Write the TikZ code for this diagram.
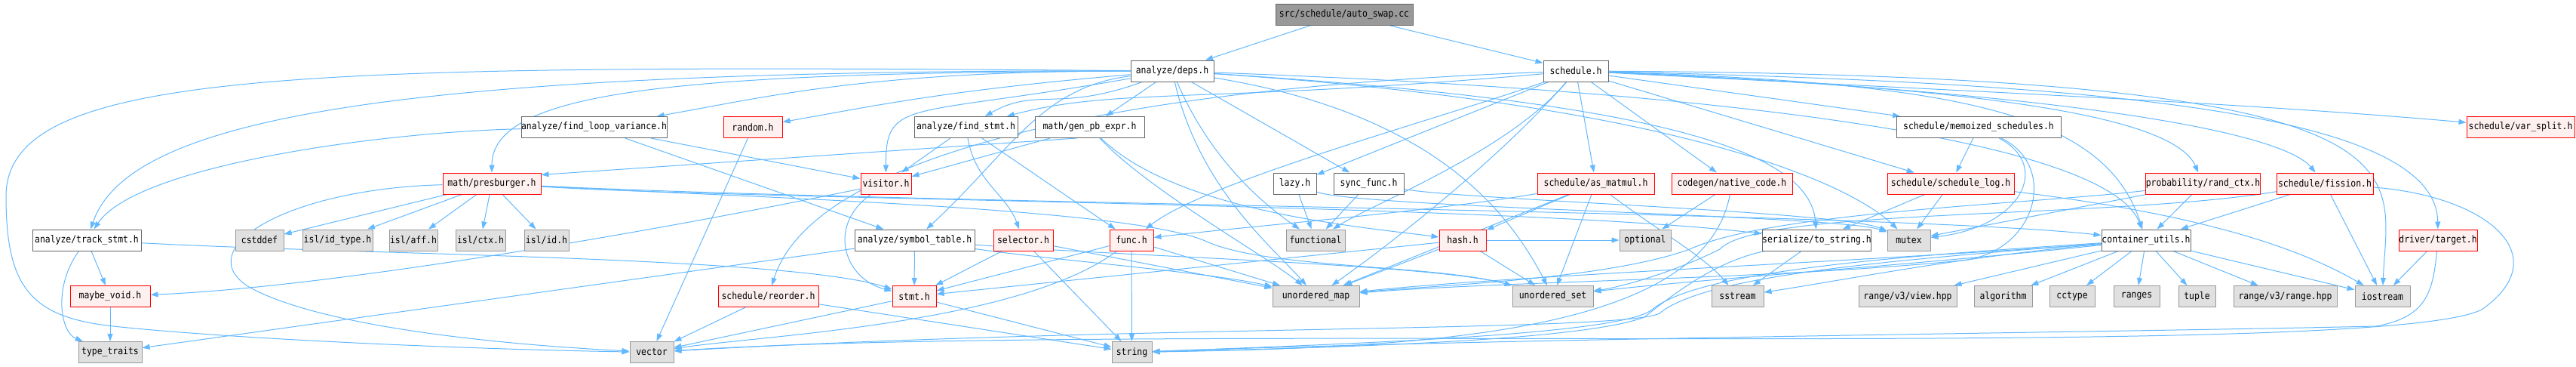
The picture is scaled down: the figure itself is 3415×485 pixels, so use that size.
\documentclass[tikz,border=0pt]{standalone}
\usepackage{fontspec}
\newfontfamily\doxfont[FakeStretch=0.88]{DejaVu Sans Mono}
\usetikzlibrary{arrows.meta}
\definecolor{edgeblue}{HTML}{63B8FF}
\definecolor{truncfill}{HTML}{FFF0F0}
\definecolor{sysfill}{HTML}{E0E0E0}
\definecolor{sysdraw}{HTML}{999999}
\definecolor{hdrdraw}{HTML}{666666}
\pgfdeclarelayer{back}
\pgfsetlayers{back,main}

\begin{document}
\begin{tikzpicture}[x=1pt,y=-1pt,>={Triangle[length=10pt,width=7pt]},
  box/.style={draw,line width=1pt,minimum height=28pt,inner sep=0pt,
    font=\doxfont\fontsize{13pt}{15pt}\selectfont},
  rootbox/.style={box,draw=hdrdraw,fill=sysdraw},
  hdrbox/.style={box,draw=hdrdraw,fill=white},
  truncbox/.style={box,draw=red,fill=truncfill},
  sysbox/.style={box,draw=sysdraw,fill=sysfill},
  incl/.style={->,edgeblue,line width=1pt}]
  \useasboundingbox (0,0) rectangle (3415,485);
  \node[rootbox,minimum width=182pt] (autoswap) at (1782,19) {src/schedule/auto\_swap.cc};
  \node[hdrbox,minimum width=110pt] (deps) at (1554,94) {analyze/deps.h};
  \node[hdrbox,minimum width=86pt] (sched) at (2089,94) {schedule.h};
  \node[hdrbox,minimum width=193pt] (floop) at (787.5,168.5) {analyze/find\_loop\_variance.h};
  \node[truncbox,minimum width=78pt] (random) at (998,168.5) {random.h};
  \node[hdrbox,minimum width=137pt] (fstmt) at (1280.5,168.5) {analyze/find\_stmt.h};
  \node[hdrbox,minimum width=145pt] (genpb) at (1444.5,168.5) {math/gen\_pb\_expr.h};
  \node[hdrbox,minimum width=218pt] (memo) at (2623,168.5) {schedule/memoized\_schedules.h};
  \node[truncbox,minimum width=143pt] (varsplit) at (3341.5,168.5) {schedule/var\_split.h};
  \node[truncbox,minimum width=130pt] (presb) at (652,243) {math/presburger.h};
  \node[truncbox,minimum width=67pt] (visitor) at (1174.5,243) {visitor.h};
  \node[hdrbox,minimum width=57pt] (lazy) at (1716.5,243) {lazy.h};
  \node[hdrbox,minimum width=93pt] (syncf) at (1814.5,243) {sync\_func.h};
  \node[truncbox,minimum width=155pt] (asmm) at (2115.5,243) {schedule/as\_matmul.h};
  \node[truncbox,minimum width=160pt] (native) at (2296,243) {codegen/native\_code.h};
  \node[truncbox,minimum width=168pt] (slog) at (2586,243) {schedule/schedule\_log.h};
  \node[truncbox,minimum width=147pt] (randctx) at (2920.5,243) {probability/rand\_ctx.h};
  \node[truncbox,minimum width=128pt] (fission) at (3082,243) {schedule/fission.h};
  \node[hdrbox,minimum width=144pt] (track) at (115,318) {analyze/track\_stmt.h};
  \node[sysbox,minimum width=64pt] (cstddef) at (344,318) {cstddef};
  \node[sysbox,minimum width=93pt] (idtype) at (447.5,318) {isl/id\_type.h};
  \node[sysbox,minimum width=64pt] (aff) at (548,318) {isl/aff.h};
  \node[sysbox,minimum width=66pt] (ctx) at (637,318) {isl/ctx.h};
  \node[sysbox,minimum width=59pt] (islid) at (724.5,318) {isl/id.h};
  \node[hdrbox,minimum width=159pt] (symtab) at (1212.5,318) {analyze/symbol\_table.h};
  \node[truncbox,minimum width=79pt] (selector) at (1356.5,318) {selector.h};
  \node[truncbox,minimum width=58pt] (func) at (1500,318) {func.h};
  \node[sysbox,minimum width=78pt] (functional) at (1744,318) {functional};
  \node[truncbox,minimum width=62pt] (hash) at (1939,318) {hash.h};
  \node[sysbox,minimum width=68pt] (optional) at (2181,318) {optional};
  \node[hdrbox,minimum width=137pt] (tostr) at (2408.5,318) {serialize/to\_string.h};
  \node[sysbox,minimum width=57pt] (mutex) at (2530.5,318) {mutex};
  \node[hdrbox,minimum width=118pt] (cutils) at (2845,318) {container\_utils.h};
  \node[truncbox,minimum width=104pt] (target) at (3232,318) {driver/target.h};
  \node[truncbox,minimum width=106pt] (maybev) at (146,392.5) {maybe\_void.h};
  \node[truncbox,minimum width=133pt] (reorder) at (1018.5,392.5) {schedule/reorder.h};
  \node[truncbox,minimum width=58pt] (stmt) at (1212,392.5) {stmt.h};
  \node[sysbox,minimum width=115pt] (umap) at (1744.5,392.5) {unordered\_map};
  \node[sysbox,minimum width=107pt] (uset) at (2058.5,392.5) {unordered\_set};
  \node[sysbox,minimum width=69pt] (sstream) at (2303.5,392.5) {sstream};
  \node[sysbox,minimum width=130pt] (rview) at (2529,392.5) {range/v3/view.hpp};
  \node[sysbox,minimum width=77pt] (algorithm) at (2655.5,392.5) {algorithm};
  \node[sysbox,minimum width=60pt] (cctype) at (2747,392.5) {cctype};
  \node[sysbox,minimum width=61pt] (ranges) at (2832.5,392.5) {ranges};
  \node[sysbox,minimum width=49pt] (tuple) at (2912.5,392.5) {tuple};
  \node[sysbox,minimum width=137pt] (rrange) at (3029.5,392.5) {range/v3/range.hpp};
  \node[sysbox,minimum width=73pt] (iostream) at (3158.5,392.5) {iostream};
  \node[sysbox,minimum width=84pt] (ttraits) at (146,466.5) {type\_traits};
  \node[sysbox,minimum width=58pt] (vector) at (864,466.5) {vector};
  \node[sysbox,minimum width=53pt] (string) at (1500.5,466.5) {string};
  \begin{pgfonlayer}{back}
  \foreach \src/\dst in {autoswap/deps,autoswap/sched,deps/genpb,deps/syncf,
      sched/lazy,sched/memo,sched/asmm,sched/native,sched/slog,
      floop/symtab,floop/visitor,fstmt/visitor,fstmt/func,genpb/visitor,
      presb/cstddef,presb/idtype,presb/aff,presb/ctx,presb/islid,
      track/maybev,maybev/ttraits,random/vector,lazy/functional,syncf/functional,
      asmm/uset,asmm/hash,asmm/umap,native/optional,memo/slog,slog/tostr,slog/mutex,
      randctx/cutils,randctx/mutex,fission/cutils,fission/iostream,target/iostream,
      cutils/algorithm,cutils/cctype,cutils/ranges,cutils/tuple,cutils/rrange,
      cutils/rview,cutils/iostream,symtab/stmt,symtab/ttraits,selector/stmt,
      selector/string,selector/umap,func/string,func/stmt,func/umap,hash/umap,
      hash/uset,hash/stmt,hash/optional,tostr/sstream,stmt/vector,stmt/string,
      reorder/vector,reorder/string}
    \draw[incl] (\src) -- (\dst);
  \draw[incl] (genpb.220) -- (presb.10);
  \draw[incl] (deps) .. controls (1149,94) and (1014,129) .. (floop);
  \draw[incl] (deps) .. controls (1250,120) and (1155,141) .. (random);
  \draw[incl] (deps) .. controls (1403,149) and (1374,115) .. (fstmt);
  \draw[incl] (deps) .. controls (1204,156) and (1174,129) .. (visitor);
  \draw[incl] (deps) .. controls (900,96) and (652,120) .. (presb);
  \draw[incl] (deps) .. controls (500,92) and (170,160) .. (track);
  \draw[incl] (deps) .. controls (1380,115) and (1340,200) .. (symtab);
  \draw[incl] (deps) .. controls (2200,135) and (2400,200) .. (tostr);
  \draw[incl] (deps) .. controls (2250,140) and (2460,250) .. (mutex);
  \draw[incl] (deps) .. controls (2400,125) and (2800,200) .. (cutils);
  \draw[incl] (deps) .. controls (1600,200) and (1660,260) .. (functional);
  \draw[incl] (deps) .. controls (1590,250) and (1690,330) .. (umap);
  \draw[incl] (deps) .. controls (1900,150) and (2000,280) .. (uset);
  \draw[incl] (deps) .. controls (400,85) and (8,90) .. (8,260) .. controls (8,380) and (40,420) .. (150,432) .. controls (300,448) and (600,462) .. (vector);
  \draw[incl] (sched) .. controls (1598,137) and (1477,116) .. (fstmt);
  \draw[incl] (sched) .. controls (2631,122) and (2971,136) .. (varsplit);
  \draw[incl] (sched) .. controls (2600,115) and (2880,150) .. (randctx);
  \draw[incl] (sched) .. controls (2700,120) and (3020,170) .. (fission);
  \draw[incl] (sched) .. controls (2800,110) and (3230,150) .. (target);
  \draw[incl] (sched) .. controls (3250,100) and (3165,220) .. (iostream);
  \draw[incl] (sched) .. controls (2600,110) and (2790,150) .. (cutils);
  \draw[incl] (sched) .. controls (1900,160) and (1600,240) .. (func);
  \draw[incl] (sched) .. controls (1500,115) and (1080,200) .. (reorder);
  \draw[incl] (sched) .. controls (2000,200) and (1820,270) .. (functional);
  \draw[incl] (sched) .. controls (1980,220) and (1820,340) .. (umap);
  \draw[incl] (floop) .. controls (500,175) and (180,220) .. (track);
  \draw[incl] (fstmt) .. controls (1293,241) and (1334,257) .. (selector);
  \draw[incl] (genpb) .. controls (1560,280) and (1800,300) .. (hash);
  \draw[incl] (genpb) .. controls (1520,250) and (1680,340) .. (umap);
  \draw[incl] (presb) .. controls (380,250) and (250,330) .. (330,380) .. controls (420,430) and (640,455) .. (vector);
  \draw[incl] (presb) .. controls (1000,265) and (2000,270) .. (tostr);
  \draw[incl] (presb) .. controls (1000,262) and (1500,275) .. (1600,320) .. controls (1680,356) and (1900,350) .. (uset);
  \draw[incl] (presb) .. controls (1200,270) and (2500,280) .. (cutils);
  \draw[incl] (visitor) .. controls (900,300) and (450,380) .. (maybev);
  \draw[incl] (visitor) .. controls (1095,300) and (1120,370) .. (stmt);
  \draw[incl] (track) .. controls (500,338) and (1050,340) .. (stmt);
  \draw[incl] (track) .. controls (70,380) and (80,440) .. (ttraits);
  \draw[incl] (lazy) .. controls (1800,275) and (2440,285) .. (mutex);
  \draw[incl] (syncf) .. controls (1950,265) and (2440,280) .. (mutex);
  \draw[incl] (asmm) .. controls (1900,280) and (1650,300) .. (func);
  \draw[incl] (asmm) .. controls (2190,300) and (2260,340) .. (sstream);
  \draw[incl] (native) .. controls (2260,440) and (1900,460) .. (string);
  \draw[incl] (slog) .. controls (2800,270) and (3000,300) .. (iostream);
  \draw[incl] (memo) .. controls (2720,220) and (2680,300) .. (mutex);
  \draw[incl] (memo) .. controls (2730,220) and (2700,335) .. (2600,345) .. controls (2350,370) and (2000,372) .. (umap);
  \draw[incl] (randctx) .. controls (2700,270) and (2350,280) .. (2240,330) .. controls (2130,370) and (1900,378) .. (umap);
  \draw[incl] (fission) .. controls (2800,290) and (2330,275) .. (2280,330) .. controls (2220,360) and (2150,380) .. (uset);
  \draw[incl] (fission) .. controls (3300,260) and (3390,340) .. (3290,410) .. controls (3150,480) and (1500,425) .. (vector);
  \draw[incl] (target) .. controls (3225,390) and (3215,420) .. (3150,432) .. controls (2800,440) and (2000,448) .. (string);
  \draw[incl] (cutils) .. controls (2600,340) and (2450,370) .. (sstream);
  \draw[incl] (cutils) .. controls (2550,350) and (2250,370) .. (uset);
  \draw[incl] (cutils) .. controls (2500,345) and (2000,365) .. (umap);
  \draw[incl] (cutils) .. controls (2500,340) and (2250,360) .. (2190,410) .. controls (2150,443) and (1800,455) .. (string);
  \draw[incl] (cutils) .. controls (2500,345) and (2260,365) .. (2200,415) .. controls (2150,440) and (1500,430) .. (vector);
  \draw[incl] (symtab) .. controls (1400,345) and (1600,360) .. (umap);
  \draw[incl] (symtab) .. controls (1500,340) and (1900,350) .. (uset);
  \draw[incl] (func) .. controls (1350,430) and (1000,445) .. (vector);
  \draw[incl] (tostr) .. controls (2280,345) and (2230,380) .. (2180,420) .. controls (2100,450) and (1800,460) .. (string);
  \end{pgfonlayer}
\end{tikzpicture}
\end{document}
